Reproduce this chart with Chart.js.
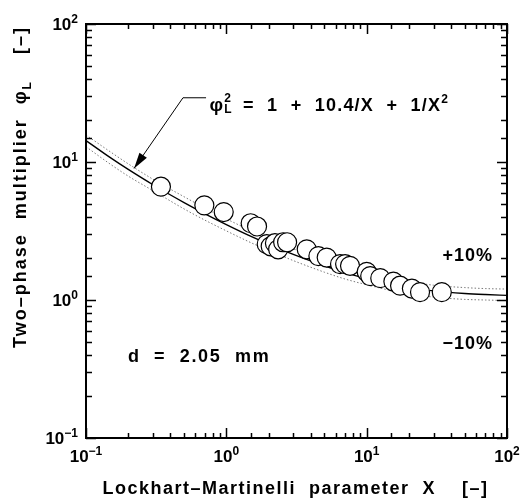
<!DOCTYPE html>
<html><head><meta charset="utf-8">
<script src="https://cdn.jsdelivr.net/npm/chart.js@4/dist/chart.umd.min.js"></script>
<style>html,body{margin:0;padding:0;background:#fff}#wrap{width:525px;height:500px}</style>
</head><body><div id="wrap"><canvas id="c" width="525" height="500"></canvas></div>
<script>
// ---- data ----
const dataX = [0.342,0.697,0.958,1.49,1.655,1.94,2.07,2.22,2.34,2.54,2.71,3.74,4.53,5.19,6.46,7.02,7.61,10.0,10.6,12.5,15.5,17.3,21.0,24.0,34.3];
const dataY = [6.62,4.85,4.34,3.60,3.41,2.54,2.45,2.58,2.33,2.62,2.62,2.33,2.08,2.03,1.82,1.82,1.77,1.60,1.49,1.44,1.36,1.27,1.21,1.14,1.14];
const curveX     = [0.1,0.15,0.2,0.3,0.5,0.7,1,1.5,2,3,5,7,10,15,20,30,50,70,100];
const curveMid   = [14.3,10.7,8.83,6.84,5.08,4.23,3.52,2.89,2.54,2.14,1.77,1.58,1.43,1.30,1.235,1.165,1.115,1.095,1.08];
const curveUpper = [15.7,11.8,9.7,7.5,5.6,4.65,3.87,3.18,2.79,2.35,1.95,1.74,1.57,1.43,1.36,1.28,1.23,1.21,1.20];
const curveLower = [12.9,9.6,7.9,6.2,4.57,3.8,3.17,2.6,2.29,1.93,1.59,1.42,1.29,1.17,1.11,1.05,1.01,1.0,0.99];
const majorTickValues = [0.1,1,10,100];
const majorTickExp    = ['\u22121','0','1','2'];
const xTitle = 'Lockhart\u2013Martinelli  parameter  X    [\u2013]';
const yTitleMain = 'Two\u2013phase  multiplier  \u03c6';
const yTitleSub = 'L';
const yTitleEnd = '    [\u2013]';
const eqText = ['\u03c6', '=  1  +  10.4/X  +  1/X'];
const labelPlus = '+10%';
const labelMinus = '\u221210%';
const labelD = 'd  =  2.05  mm';

const FONT = '"Liberation Sans", Arial, Helvetica, sans-serif';
const toPts = (xa, ya) => xa.map((x, i) => ({x, y: ya[i]}));

function drawRuns(ctx, runs, x, y, align) {
  let w = 0;
  runs.forEach(r => { ctx.font = 'bold ' + r.size + 'px ' + FONT; ctx.letterSpacing = (r.ls||0) + 'px'; r.w = ctx.measureText(r.t).width; if (!r.noAdvance) w += r.w; });
  let cx = align === 'center' ? x - w/2 : align === 'right' ? x - w : x;
  ctx.textAlign = 'left'; ctx.textBaseline = 'alphabetic';
  runs.forEach(r => {
    ctx.font = 'bold ' + r.size + 'px ' + FONT; ctx.letterSpacing = (r.ls||0) + 'px';
    ctx.fillText(r.t, cx + (r.dx||0), y + (r.dy||0));
    if (!r.noAdvance) cx += r.w;
  });
  ctx.letterSpacing = '0px';
}

const decor = {
  id: 'decor',
  afterDraw(chart) {
    const ctx = chart.ctx, xs = chart.scales.x, ys = chart.scales.y, a = chart.chartArea;
    ctx.save();
    ctx.strokeStyle = '#000'; ctx.fillStyle = '#000';
    ctx.lineWidth = 2;
    ctx.strokeRect(a.left, a.top, a.right - a.left, a.bottom - a.top);
    ctx.lineWidth = 1.5;
    const isMajor = v => Math.abs(Math.log10(v) - Math.round(Math.log10(v))) < 1e-6;
    ctx.beginPath();
    xs.ticks.forEach(t => {
      const x = Math.round(xs.getPixelForValue(t.value)) + 0.5, L = isMajor(t.value) ? 10 : 5;
      ctx.moveTo(x, a.bottom); ctx.lineTo(x, a.bottom - L);
      ctx.moveTo(x, a.top); ctx.lineTo(x, a.top + L);
    });
    ys.ticks.forEach(t => {
      const y = Math.round(ys.getPixelForValue(t.value)) + 0.5, L = isMajor(t.value) ? 10 : 6;
      ctx.moveTo(a.left, y); ctx.lineTo(a.left + L, y);
      ctx.moveTo(a.right, y); ctx.lineTo(a.right - L, y);
    });
    ctx.stroke();
    majorTickValues.forEach((v, i) => {
      const x = xs.getPixelForValue(v);
      drawRuns(ctx, [{t:'10', size:17}, {t:majorTickExp[i], size:12, dy:-7}], x, a.bottom + 24, 'center');
      const y = ys.getPixelForValue(v);
      drawRuns(ctx, [{t:'10', size:17}, {t:majorTickExp[i], size:12, dy:-7}], a.left - 8, y + 6, 'right');
    });
    drawRuns(ctx, [{t:xTitle, size:18, ls:1.5}], (a.left + a.right)/2 - 1, 494, 'center');
    ctx.save();
    ctx.translate(26, 187); ctx.rotate(-Math.PI/2);
    drawRuns(ctx, [{t:yTitleMain, size:18, ls:2}, {t:yTitleSub, size:12, dy:5}, {t:yTitleEnd, size:18, ls:2}], 0, 0, 'center');
    ctx.restore();
    const ex = xs.getPixelForValue(0.76), ey = ys.getPixelForValue(23.5);
    drawRuns(ctx, [{t:eqText[0], size:19}, {t:'2', size:12, dy:-9, noAdvance:true, dx:1}, {t:'L', size:12, dy:2, dx:1}, {t:'  ' + eqText[1], size:18, ls:1.2}, {t:'2', size:12, dy:-8}], ex, ey, 'left');
    const p0 = [xs.getPixelForValue(0.717), ys.getPixelForValue(29.2)];
    const p1 = [xs.getPixelForValue(0.491), ys.getPixelForValue(29.2)];
    const p2 = [xs.getPixelForValue(0.22), ys.getPixelForValue(8.98)];
    ctx.lineWidth = 1;
    ctx.beginPath(); ctx.moveTo(p0[0], p0[1]); ctx.lineTo(p1[0], p1[1]); ctx.lineTo(p2[0], p2[1]); ctx.stroke();
    const ang = Math.atan2(p2[1]-p1[1], p2[0]-p1[0]);
    const hl = 16, hw = 4.5;
    ctx.beginPath();
    ctx.moveTo(p2[0], p2[1]);
    ctx.lineTo(p2[0] - hl*Math.cos(ang) + hw*Math.sin(ang), p2[1] - hl*Math.sin(ang) - hw*Math.cos(ang));
    ctx.lineTo(p2[0] - hl*Math.cos(ang) - hw*Math.sin(ang), p2[1] - hl*Math.sin(ang) + hw*Math.cos(ang));
    ctx.closePath(); ctx.fill();
    drawRuns(ctx, [{t:labelPlus, size:18, ls:1}], a.right - 14, 261, 'right');
    drawRuns(ctx, [{t:labelMinus, size:18, ls:1}], a.right - 14, 349, 'right');
    drawRuns(ctx, [{t:labelD, size:18, ls:1.7}], a.left + 42, 362, 'left');
    ctx.restore();
  }
};

new Chart(document.getElementById('c'), {
  type: 'scatter',
  data: {
    datasets: [
      {label:'data', data: toPts(dataX, dataY), pointRadius: 9.5, pointHoverRadius: 9.5, backgroundColor:'#fff', borderColor:'#000', borderWidth:1.2, order:0},
      {label:'fit', data: toPts(curveX, curveMid), showLine:true, pointRadius:0, borderColor:'#000', borderWidth:1.4, cubicInterpolationMode:'monotone', order:1},
      {label:'+10%', data: toPts(curveX, curveUpper), showLine:true, pointRadius:0, borderColor:'#777', borderWidth:1, borderDash:[1.5,2], cubicInterpolationMode:'monotone', order:2},
      {label:'-10%', data: toPts(curveX, curveLower), showLine:true, pointRadius:0, borderColor:'#777', borderWidth:1, borderDash:[1.5,2], cubicInterpolationMode:'monotone', order:2}
    ]
  },
  options: {
    responsive:false, animation:false, devicePixelRatio:1,
    layout:{padding:{left:86, right:18, top:24, bottom:62}},
    plugins:{legend:{display:false}, tooltip:{enabled:false}},
    scales:{
      x:{type:'logarithmic', min:0.1, max:100, grid:{display:false}, border:{display:false}, ticks:{display:false, autoSkip:false}, afterFit(s){s.height=0;}},
      y:{type:'logarithmic', min:0.1, max:100, grid:{display:false}, border:{display:false}, ticks:{display:false, autoSkip:false}, afterFit(s){s.width=0;}}
    }
  },
  plugins:[decor]
});
</script></body></html>
